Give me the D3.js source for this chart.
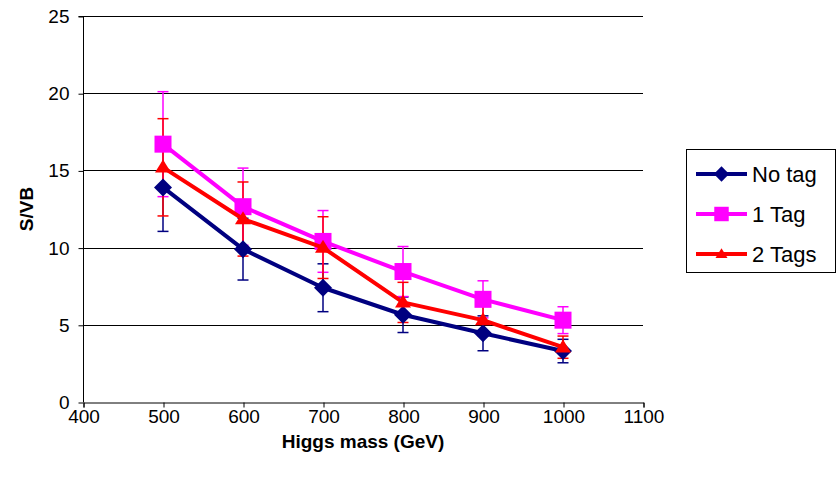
<!DOCTYPE html>
<html><head><meta charset="utf-8">
<script src="https://cdn.jsdelivr.net/npm/d3@7"></script>
<style>html,body{margin:0;padding:0;background:#fff;}svg{display:block;font-family:"Liberation Sans",Arial,sans-serif;}</style>
</head><body>
<svg id="c" width="839" height="487"></svg>
<script>
const masses = [500, 600, 700, 800, 900, 1000];
const seriesNames = ["No tag", "1 Tag", "2 Tags"];
const noTag = [13.9, 9.9, 7.4, 5.65, 4.45, 3.3];
const noTagErr = [2.85, 2.0, 1.55, 1.15, 1.13, 0.76];
const oneTag = [16.7, 12.65, 10.4, 8.45, 6.65, 5.3];
const oneTagErr = [3.4, 2.5, 2.0, 1.62, 1.2, 0.87];
const twoTags = [15.2, 11.85, 10.0, 6.45, 5.3, 3.55];
const twoTagsErr = [3.15, 2.4, 2.0, 1.3, 1.0, 0.72];
const xTicks = [400, 500, 600, 700, 800, 900, 1000, 1100];
const yTicks = [0, 5, 10, 15, 20, 25];
const colors = ["#000080", "#FF00FF", "#FF0000"];
const shapes = ["diamond", "square", "triangle"];

const series = [
  {name: seriesNames[0], vals: noTag, errs: noTagErr, color: colors[0], shape: shapes[0]},
  {name: seriesNames[1], vals: oneTag, errs: oneTagErr, color: colors[1], shape: shapes[1]},
  {name: seriesNames[2], vals: twoTags, errs: twoTagsErr, color: colors[2], shape: shapes[2]}
];

const svg = d3.select("#c");
const L = 83, R = 643, T = 16, B = 402;
const x = d3.scaleLinear().domain([400, 1100]).range([L, R]);
const y = d3.scaleLinear().domain([0, 25]).range([B, T]);

// gridlines
svg.append("g").selectAll("line").data(yTicks.filter(d => d > 0)).join("line")
  .attr("x1", L).attr("x2", R)
  .attr("y1", d => Math.round(y(d)) + 0.5).attr("y2", d => Math.round(y(d)) + 0.5)
  .attr("stroke", "#000").attr("stroke-width", 1);

// axes
const yAxis = d3.axisLeft(y).tickValues(yTicks).tickSize(5).tickPadding(9).tickFormat(d3.format("d"));
const gy = svg.append("g").attr("transform", `translate(${L + 0.5},0.5)`).call(yAxis);
const xAxis = d3.axisBottom(x).tickValues(xTicks).tickSize(5).tickPadding(2).tickFormat(d3.format("d"));
const gx = svg.append("g").attr("transform", `translate(0.5,${B + 0.5})`).call(xAxis);
[gx, gy].forEach(g => {
  g.select(".domain").attr("stroke", "#000").attr("stroke-width", 1);
  g.selectAll(".tick line").attr("stroke", "#000");
  g.selectAll(".tick text").attr("font-size", 19).attr("fill", "#000")
    .attr("font-family", "'Liberation Sans', Arial, sans-serif");
});
gy.select(".domain").attr("d", `M-5,${y(25)}H0V${y(0)}`);

// axis titles
svg.append("text").attr("x", (L + R) / 2).attr("y", 448).attr("text-anchor", "middle")
  .attr("font-size", 19).attr("font-weight", "bold").text("Higgs mass (GeV)");
svg.append("text").attr("transform", `translate(33,${(T + B) / 2}) rotate(-90)`)
  .attr("text-anchor", "middle").attr("font-size", 19).attr("font-weight", "bold").text("S/VB");

// error bars
series.forEach(s => {
  const g = svg.append("g").attr("stroke", s.color).attr("stroke-width", 1.5);
  masses.forEach((m, i) => {
    const cx = x(m), y1 = y(s.vals[i] + s.errs[i]), y0 = y(s.vals[i] - s.errs[i]);
    g.append("line").attr("x1", cx).attr("x2", cx).attr("y1", y1).attr("y2", y0);
    g.append("line").attr("x1", cx - 5.5).attr("x2", cx + 5.5).attr("y1", y1).attr("y2", y1);
    g.append("line").attr("x1", cx - 5.5).attr("x2", cx + 5.5).attr("y1", y0).attr("y2", y0);
  });
});

function marker(g, shape, cx, cy, color, scale) {
  if (shape === "diamond") {
    const r = 9 * scale;
    g.append("path").attr("d", `M${cx},${cy - r}L${cx + r},${cy}L${cx},${cy + r}L${cx - r},${cy}Z`).attr("fill", color);
  } else if (shape === "square") {
    const h = 8.5 * scale;
    g.append("rect").attr("x", cx - h).attr("y", cy - h).attr("width", 2 * h).attr("height", 2 * h).attr("fill", color);
  } else {
    const w = 8 * scale, hgt = 13 * scale;
    g.append("path").attr("d", `M${cx},${cy - hgt * 0.6}L${cx + w},${cy + hgt * 0.4}L${cx - w},${cy + hgt * 0.4}Z`).attr("fill", color);
  }
}

const line = d3.line().x(d => x(d[0])).y(d => y(d[1]));
series.forEach(s => {
  const g = svg.append("g");
  g.append("path").datum(masses.map((m, i) => [m, s.vals[i]])).attr("d", line)
    .attr("fill", "none").attr("stroke", s.color).attr("stroke-width", 4).attr("stroke-linejoin", "round");
  masses.forEach((m, i) => marker(g, s.shape, x(m), y(s.vals[i]), s.color, 1));
});

// legend
const lg = svg.append("g");
lg.append("rect").attr("x", 686.5).attr("y", 149.5).attr("width", 149).attr("height", 123)
  .attr("fill", "#fff").attr("stroke", "#000").attr("stroke-width", 1);
series.forEach((s, i) => {
  const cy = 174 + i * 40;
  lg.append("line").attr("x1", 696).attr("x2", 747).attr("y1", cy).attr("y2", cy)
    .attr("stroke", s.color).attr("stroke-width", 4);
  marker(lg, s.shape, 721.5, cy, s.color, s.shape === "triangle" ? 0.75 : 0.85);
  lg.append("text").attr("x", 752).attr("y", cy).attr("dy", "0.36em").attr("font-size", 22)
    .attr("fill", "#000").text(s.name);
});
</script>
</body></html>
